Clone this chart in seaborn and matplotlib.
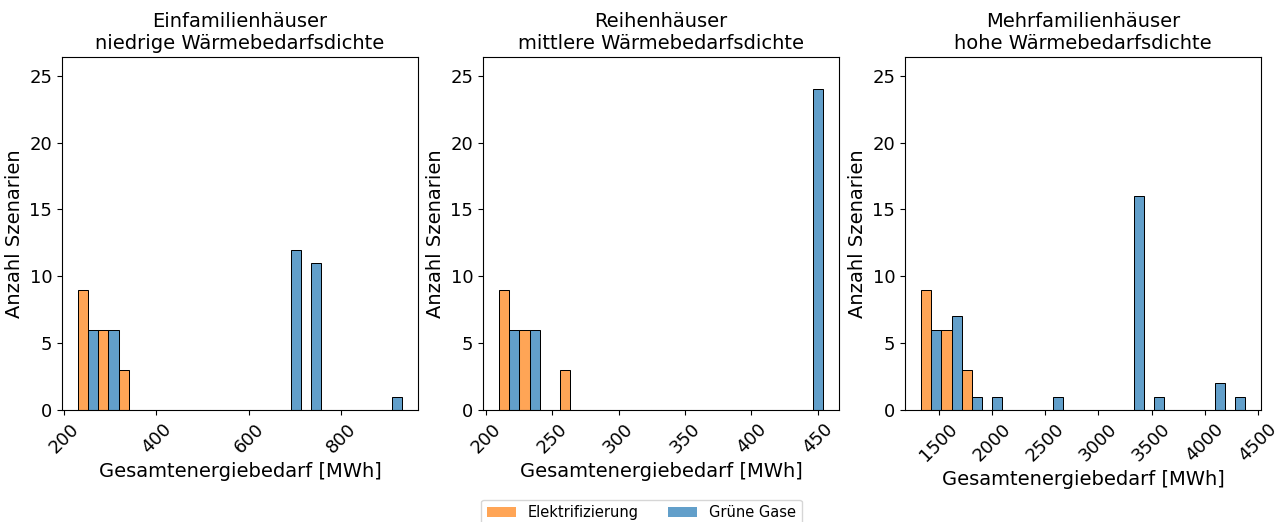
import numpy as np
import pandas as pd
import matplotlib
matplotlib.use('Agg')
import matplotlib.pyplot as plt
import seaborn as sns
from matplotlib.patches import Patch
from matplotlib.ticker import MultipleLocator

# Gesamtenergiebedarf [MWh] je Szenario (Wert, Anzahl)
titles = ['Einfamilienhäuser\nniedrige Wärmebedarfsdichte',
          'Reihenhäuser\nmittlere Wärmebedarfsdichte',
          'Mehrfamilienhäuser\nhohe Wärmebedarfsdichte']
varianten = ['Elektrifizierung', 'Grüne Gase']

efh_elek_values = [231, 290, 330]
efh_elek_counts = [9, 6, 3]
efh_gas_values  = [250, 295, 690, 735, 931]
efh_gas_counts  = [6, 6, 12, 11, 1]

rh_elek_values = [210, 232, 262]
rh_elek_counts = [9, 6, 3]
rh_gas_values  = [218, 234, 454]
rh_gas_counts  = [6, 6, 24]

mfh_elek_values = [1337, 1620, 1800]
mfh_elek_counts = [9, 6, 3]
mfh_gas_values  = [1430, 1620, 1820, 2000, 2570, 3330, 3520, 4090, 4376]
mfh_gas_counts  = [6, 7, 1, 1, 1, 16, 1, 2, 1]

colors = {'Elektrifizierung': 'tab:orange', 'Grüne Gase': 'tab:blue'}


def build_df(elek_v, elek_c, gas_v, gas_c):
    e = np.repeat(elek_v, elek_c)
    g = np.repeat(gas_v, gas_c)
    return pd.DataFrame({
        'energie': np.concatenate([e, g]),
        'variante': ['Elektrifizierung']*len(e) + ['Grüne Gase']*len(g),
    })


frames = [
    build_df(efh_elek_values, efh_elek_counts, efh_gas_values, efh_gas_counts),
    build_df(rh_elek_values, rh_elek_counts, rh_gas_values, rh_gas_counts),
    build_df(mfh_elek_values, mfh_elek_counts, mfh_gas_values, mfh_gas_counts),
]

fig = plt.figure(figsize=(12.83, 5.22), dpi=100)
lefts = [0.0483, 0.3765, 0.7054]
axes = [fig.add_axes([l, 0.2146, 0.2775, 0.676]) for l in lefts]

for ax, df, title in zip(axes, frames, titles):
    sns.histplot(data=df, x='energie', hue='variante', hue_order=varianten,
                 multiple='dodge', bins=16, shrink=1, alpha=0.7,
                 palette=colors, legend=False, ax=ax)
    ax.set_ylim(0, 26.4)
    ax.set_title(title, fontsize=14)
    ax.set_xlabel('Gesamtenergiebedarf [MWh]', fontsize=14)
    ax.set_ylabel('Anzahl Szenarien', fontsize=14)
    ax.tick_params(axis='both', labelsize=13)
    ax.tick_params(axis='x', labelrotation=45)

axes[2].xaxis.set_major_locator(MultipleLocator(500))

handles = [Patch(facecolor=colors[v], alpha=0.7, label=v) for v in varianten]
fig.legend(handles=handles, loc='upper center', bbox_to_anchor=(0.5, 0.043),
           borderaxespad=0, ncol=2, fontsize=10.5, frameon=True)

plt.savefig('out.png', dpi=100)
